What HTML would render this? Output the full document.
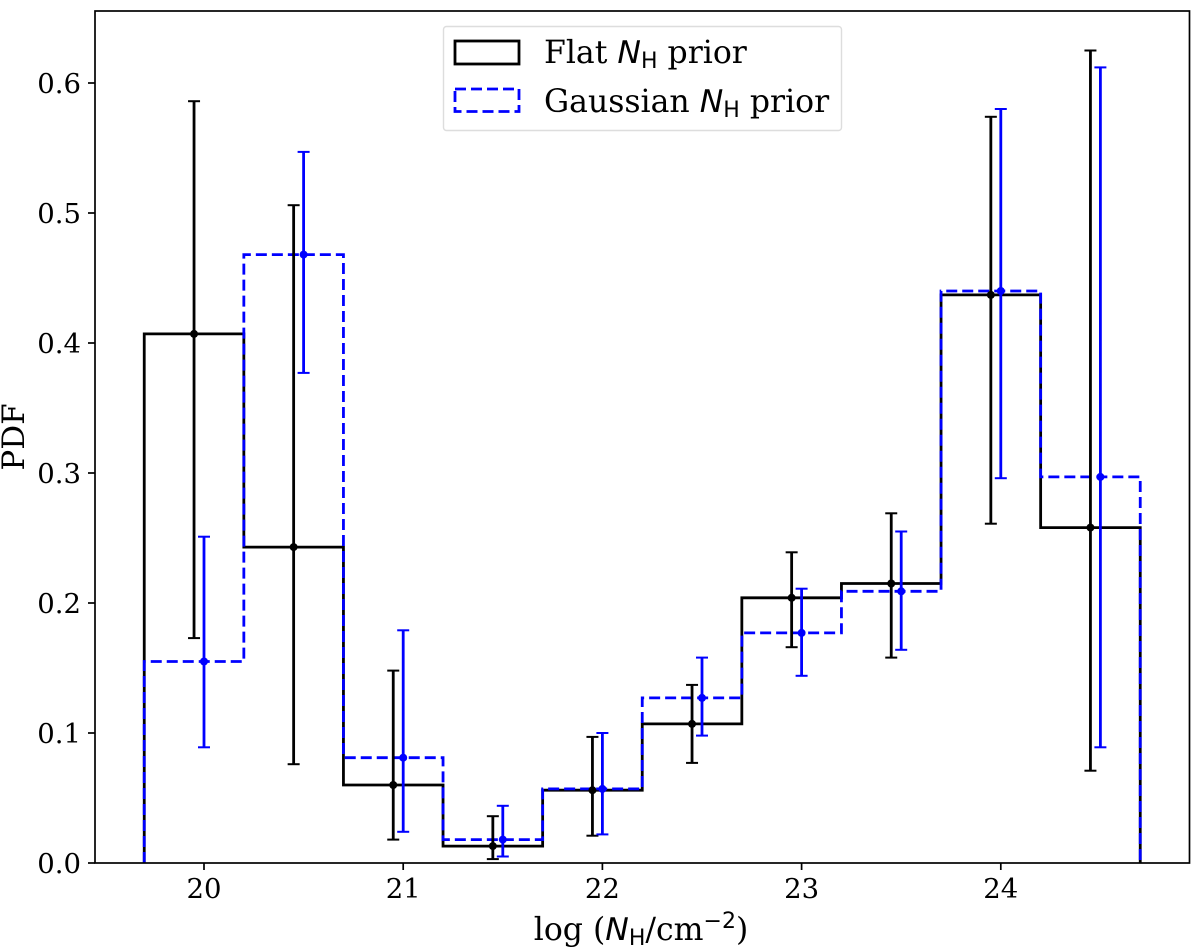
<!DOCTYPE html>
<html><head><meta charset="utf-8"><title>PDF chart</title>
<style>
html,body{margin:0;padding:0;background:#fff;}
svg{display:block;}
text{font-family:"DejaVu Serif",serif;fill:#000;}
.m{font-family:"DejaVu Sans",sans-serif;}
</style></head>
<body>
<svg id="chart" width="1200" height="947" viewBox="0 0 1200 947" xmlns="http://www.w3.org/2000/svg">
<rect x="0" y="0" width="1200" height="947" fill="#fff"/>
<g id="plot"></g>
<rect x="95" y="11" width="1094.5" height="852" fill="none" stroke="#000" stroke-width="1.7"/>
<g id="ticks"></g>
<text x="641" y="940" font-size="31.5" text-anchor="middle">log (<tspan class="m" font-style="italic">N</tspan><tspan class="m" font-size="22" dy="5">H</tspan><tspan dy="-5">/cm</tspan><tspan font-size="22" dy="-12" class="m">−2</tspan><tspan dy="12">)</tspan></text>
<text transform="translate(24,437) rotate(-90)" font-size="31" text-anchor="middle">PDF</text>
<g>
<rect x="443.5" y="26.5" width="398" height="104" rx="3" fill="#fff" fill-opacity="0.8" stroke="#ddd" stroke-width="1.4"/>
<rect x="455" y="41" width="64" height="23" fill="none" stroke="#000" stroke-width="2.8"/>
<rect x="455" y="89" width="64" height="22.5" fill="none" stroke="#0000ff" stroke-width="2.8" stroke-dasharray="11 5"/>
<text x="544" y="63" font-size="31.5">Flat <tspan class="m" font-style="italic">N</tspan><tspan class="m" font-size="22" dy="5">H</tspan><tspan dy="-5"> prior</tspan></text>
<text x="544" y="112" font-size="31.5">Gaussian <tspan class="m" font-style="italic">N</tspan><tspan class="m" font-size="22" dy="5">H</tspan><tspan dy="-5"> prior</tspan></text>
</g>
</svg>
<script>
const binEdges = [19.7, 20.2, 20.7, 21.2, 21.7, 22.2, 22.7, 23.2, 23.7, 24.2, 24.7];
const flatValues = [0.407, 0.243, 0.060, 0.013, 0.056, 0.107, 0.204, 0.215, 0.437, 0.258];
const flatHigh = [0.586, 0.506, 0.148, 0.036, 0.097, 0.137, 0.239, 0.269, 0.574, 0.625];
const flatLow = [0.173, 0.076, 0.018, 0.003, 0.021, 0.077, 0.166, 0.158, 0.261, 0.071];
const gaussValues = [0.155, 0.468, 0.081, 0.018, 0.057, 0.127, 0.177, 0.209, 0.440, 0.297];
const gaussHigh = [0.251, 0.547, 0.179, 0.044, 0.100, 0.158, 0.211, 0.255, 0.580, 0.612];
const gaussLow = [0.089, 0.377, 0.024, 0.005, 0.022, 0.098, 0.144, 0.164, 0.296, 0.089];
const flatCenters = [19.95, 20.45, 20.95, 21.45, 21.95, 22.45, 22.95, 23.45, 23.95, 24.45];
const gaussCenters = [20, 20.5, 21, 21.5, 22, 22.5, 23, 23.5, 24, 24.5];
const xTickValues = [20, 21, 22, 23, 24];
const yTickValues = [0, 0.1, 0.2, 0.3, 0.4, 0.5, 0.6];

const NS = 'http://www.w3.org/2000/svg';
const xScale = v => 204 + (v - 20) * 199.2;
const yScale = v => 863 - v * 1300;
const plot = document.getElementById('plot');
const ticks = document.getElementById('ticks');

function make(tag, attrs, parent) {
  const el = document.createElementNS(NS, tag);
  for (const k in attrs) el.setAttribute(k, attrs[k]);
  parent.appendChild(el);
  return el;
}
function drawHist(values, color, dash) {
  let d = 'M' + xScale(binEdges[0]) + ' ' + yScale(0);
  values.forEach((v, i) => {
    d += 'L' + xScale(binEdges[i]) + ' ' + yScale(v) + 'L' + xScale(binEdges[i + 1]) + ' ' + yScale(v);
  });
  d += 'L' + xScale(binEdges[values.length]) + ' ' + yScale(0);
  const attrs = {d: d, fill: 'none', stroke: color, 'stroke-width': 2.8, 'stroke-linejoin': 'miter'};
  if (dash) attrs['stroke-dasharray'] = dash;
  const p = make('path', attrs, plot);
  
  
}
function drawErrors(centers, values, low, high, color, label) {
  centers.forEach((c, i) => {
    const g = make('g', {}, plot);
    
    
    const x = xScale(c);
    make('line', {x1: x, x2: x, y1: yScale(low[i]), y2: yScale(high[i]), stroke: color, 'stroke-width': 2.8}, g);
    make('line', {x1: x - 6, x2: x + 6, y1: yScale(low[i]), y2: yScale(low[i]), stroke: color, 'stroke-width': 2}, g);
    make('line', {x1: x - 6, x2: x + 6, y1: yScale(high[i]), y2: yScale(high[i]), stroke: color, 'stroke-width': 2}, g);
    make('circle', {cx: x, cy: yScale(values[i]), r: 4, fill: color}, g);
  });
}
drawHist(flatValues, '#000', null);
drawHist(gaussValues, '#0000ff', '11 5');
drawErrors(flatCenters, flatValues, flatLow, flatHigh, '#000', 'flat');
drawErrors(gaussCenters, gaussValues, gaussLow, gaussHigh, '#0000ff', 'gaussian');

xTickValues.forEach(v => {
  const l = make('line', {x1: xScale(v), x2: xScale(v), y1: 863, y2: 870, stroke: '#000', 'stroke-width': 1.7}, ticks);
  
  
  const t = make('text', {x: xScale(v), y: 898, 'font-size': 27.5, 'text-anchor': 'middle'}, ticks);
  
  
  t.textContent = String(v);
});
yTickValues.forEach(v => {
  const l = make('line', {x1: 88, x2: 95, y1: yScale(v), y2: yScale(v), stroke: '#000', 'stroke-width': 1.7}, ticks);
  
  
  const t = make('text', {x: 81, y: yScale(v) + 10, 'font-size': 27.5, 'text-anchor': 'end'}, ticks);
  
  
  t.textContent = v.toFixed(1);
});
</script>
</body></html>
